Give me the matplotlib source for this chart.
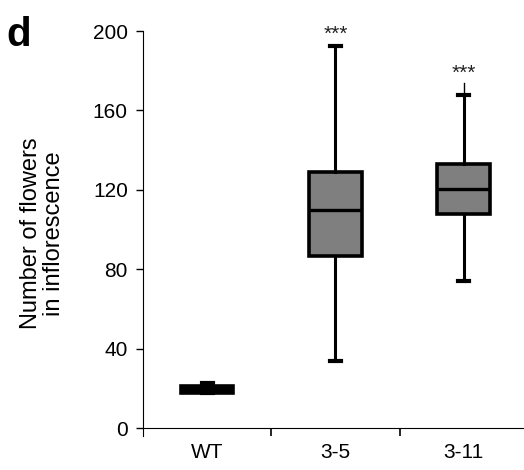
import matplotlib

matplotlib.use("Agg")
import matplotlib.pyplot as plt  # noqa: E402

plt.rcParams["font.family"] = ["Liberation Sans", "DejaVu Sans"]

# values
genotypes = ["WT", "3-5", "3-11"]
whisker_low = [17.5, 34, 74]
q1 = [17.5, 86.5, 108]
median = [19.2, 110, 120.5]
q3 = [21.2, 129, 133]
whisker_high = [22.8, 192.5, 168]
# the 3-11 upper whisker pokes a little past its cap
whisker_tip = [None, None, 174]
stars = ["", "***", "***"]
star_y = [None, 198.5, 178.5]
y_ticks = [0, 40, 80, 120, 160, 200]
box_colors = ["black", "#7f7f7f", "#7f7f7f"]  # WT box is so flat it prints solid

stats = [
    {"label": g, "whislo": lo, "q1": a, "med": m, "q3": b, "whishi": hi}
    for g, lo, a, m, b, hi in zip(genotypes, whisker_low, q1, median, q3, whisker_high)
]

fig = plt.figure(figsize=(5.24, 4.70), dpi=100)
ax = fig.add_axes([0.273, 0.0723, 0.727, 0.8617])

parts = ax.bxp(
    stats,
    positions=range(len(genotypes)),
    widths=0.41,
    capwidths=0.088,
    showfliers=False,
    patch_artist=True,
    boxprops=dict(facecolor="#7f7f7f", edgecolor="black", linewidth=2.6),
    medianprops=dict(color="black", linewidth=2.4),
    whiskerprops=dict(color="black", linewidth=2.2),
    capprops=dict(color="black", linewidth=3.0),
)
for box, c in zip(parts["boxes"], box_colors):
    box.set_facecolor(c)

for i, tip in enumerate(whisker_tip):
    if tip is not None:
        ax.plot([i, i], [whisker_high[i], tip], color="black", linewidth=1.0)

for i, (s, y) in enumerate(zip(stars, star_y)):
    if s:
        ax.text(i, y, s, ha="center", va="center", fontsize=15, color="#222222")

ax.set_xlim(-0.5, 2.47)
ax.set_ylim(-4, 200)
ax.spines["top"].set_visible(False)
ax.spines["right"].set_visible(False)
ax.spines["bottom"].set_position(("data", 0))

ax.set_yticks(y_ticks)
ax.set_yticklabels([str(t) for t in y_ticks])
ax.tick_params(axis="y", direction="out", length=5, width=1, labelsize=15, pad=6)

# category labels on minor ticks, separator marks on major ticks
ax.set_xticks([0.5, 1.5])
ax.set_xticklabels([])
ax.set_xticks(range(len(genotypes)), minor=True)
ax.set_xticklabels(genotypes, minor=True)
ax.tick_params(axis="x", which="major", direction="out", length=6, width=1.2)
ax.tick_params(axis="x", which="minor", length=0, labelsize=15, pad=11)

ax.set_ylabel("Number of flowers\nin inflorescence", fontsize=17, labelpad=20,
              linespacing=1.05)
fig.text(0.012, 0.965, "d", fontsize=29, fontweight="bold", va="top")

fig.savefig("out.png", dpi=100)
